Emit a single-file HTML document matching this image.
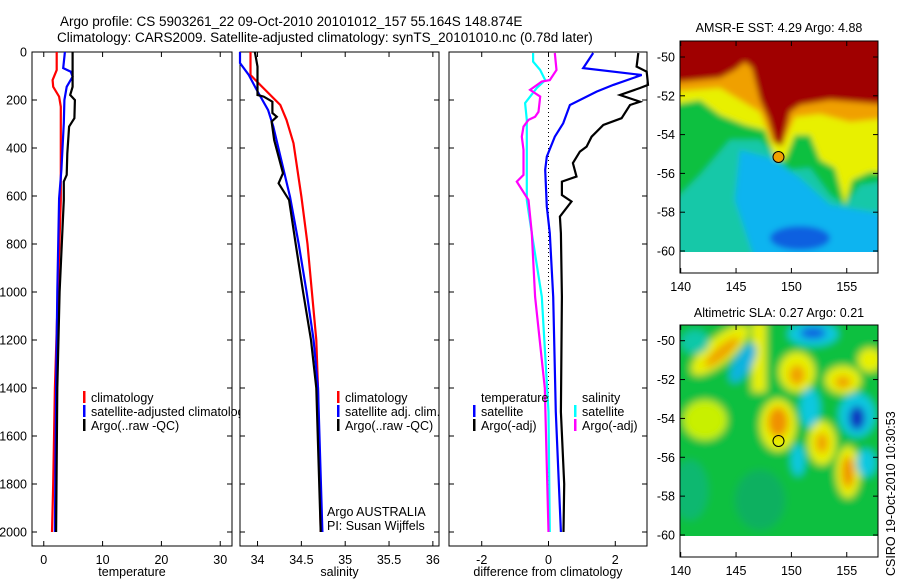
<!DOCTYPE html>
<html><head><meta charset="utf-8">
<style>
html,body{margin:0;padding:0;background:#fff;}
svg{display:block;font-family:"Liberation Sans",sans-serif;}
</style></head>
<body>
<svg id="fig" width="900" height="580" viewBox="0 0 900 580" xmlns="http://www.w3.org/2000/svg">
<defs>
<filter id="blur" x="-10%" y="-10%" width="120%" height="120%"><feGaussianBlur stdDeviation="3"/></filter>
<filter id="blur2" x="-10%" y="-10%" width="120%" height="120%"><feGaussianBlur stdDeviation="4"/></filter>
<clipPath id="clipMap1"><rect x="680" y="41" width="198" height="211"/></clipPath>
<clipPath id="clipMap2"><rect x="680" y="325" width="198" height="211"/></clipPath>
<clipPath id="clipLeg1"><rect x="0" y="380" width="240" height="60"/></clipPath>
</defs>
<text x="60" y="26" font-size="13.5">Argo profile: CS 5903261_22 09-Oct-2010 20101012_157 55.164S 148.874E</text>
<text x="57" y="42" font-size="13.5">Climatology: CARS2009. Satellite-adjusted climatology: synTS_20101010.nc (0.78d later)</text>

<g>
<g clip-path="url(#clipMap1)">
<g filter="url(#blur)">
<rect x="670" y="30" width="220" height="230" fill="#14c8a8"/>
<polygon fill="#10b4f0" points="740,150 770,158 800,178 830,205 890,215 890,260 755,260 735,200"/>
<ellipse cx="800" cy="238" rx="30" ry="12" fill="#0a60e0"/>
<polygon fill="#10c040" points="670,30 890,30 890,180 860,185 845,205 830,195 810,168 790,170 760,140 730,140 700,175 670,205"/>
<polygon fill="#e8f000" points="670,30 890,30 890,172 870,172 852,180 845,205 835,168 820,160 810,135 795,135 785,160 775,158 765,130 745,125 720,115 700,100 670,105"/>
<polygon fill="#f0a000" points="670,30 890,30 890,118 850,122 820,114 795,117 782,146 772,142 760,112 740,100 720,88 670,92"/>
<polygon fill="#a00000" points="670,30 890,30 890,105 830,100 800,105 790,112 782,146 775,143 768,118 760,100 752,68 745,62 735,70 720,78 700,80 670,83"/>
</g>
</g>
<rect x="680" y="252" width="198" height="21" fill="#fff"/>
<circle cx="778.5" cy="157" r="5.5" fill="#f0a000" stroke="#000" stroke-width="1"/>
<rect x="680" y="41" width="198" height="232" fill="none" stroke="#000" stroke-width="1"/>
<text x="779" y="32" font-size="12.5" text-anchor="middle">AMSR-E SST: 4.29 Argo: 4.88</text>
</g>

<g>
<g clip-path="url(#clipMap2)">
<g filter="url(#blur2)">
<rect x="670" y="315" width="220" height="230" fill="#10c040"/>
<ellipse cx="720" cy="350" rx="36" ry="13" transform="rotate(-40 720 350)" fill="#e8f000"/>
<ellipse cx="722" cy="352" rx="22" ry="6" transform="rotate(-40 722 352)" fill="#f0a000"/>
<rect x="752" y="322" width="14" height="70" fill="#e8f000"/>
<ellipse cx="778" cy="425" rx="18" ry="26" fill="#e8f000"/>
<ellipse cx="778" cy="422" rx="10" ry="15" fill="#f09000"/>
<ellipse cx="797" cy="372" rx="18" ry="20" fill="#e8f000"/>
<ellipse cx="797" cy="375" rx="8" ry="10" fill="#f0a000"/>
<ellipse cx="743" cy="363" rx="9" ry="22" transform="rotate(30 743 363)" fill="#10b4e0"/>
<ellipse cx="695" cy="342" rx="14" ry="12" fill="#10c8a8"/>
<ellipse cx="813" cy="334" rx="25" ry="12" fill="#10c8e0"/>
<ellipse cx="813" cy="333" rx="13" ry="6" fill="#1060e0"/>
<ellipse cx="810" cy="408" rx="10" ry="20" fill="#10c8e0"/>
<ellipse cx="822" cy="443" rx="14" ry="22" fill="#e8f000"/>
<ellipse cx="822" cy="443" rx="6" ry="10" fill="#f0a000"/>
<ellipse cx="843" cy="380" rx="18" ry="14" fill="#e8f000"/>
<ellipse cx="843" cy="382" rx="8" ry="6" fill="#f0a000"/>
<ellipse cx="857" cy="415" rx="18" ry="22" fill="#10c8e0"/>
<ellipse cx="857" cy="418" rx="8" ry="12" fill="#0a30c0"/>
<ellipse cx="848" cy="472" rx="12" ry="26" fill="#e8f000"/>
<ellipse cx="848" cy="472" rx="6" ry="16" fill="#f09000"/>
<ellipse cx="798" cy="460" rx="7" ry="16" fill="#10c8e0"/>
<ellipse cx="866" cy="463" rx="10" ry="14" fill="#10c8e0"/>
<ellipse cx="705" cy="420" rx="22" ry="20" fill="#c8f000"/>
<ellipse cx="690" cy="490" rx="18" ry="30" fill="#10b870"/>
<ellipse cx="760" cy="500" rx="25" ry="30" fill="#10b060"/>
<ellipse cx="870" cy="360" rx="12" ry="12" fill="#e8f000"/>
</g>
</g>
<rect x="680" y="536" width="198" height="21" fill="#fff"/>
<circle cx="778.5" cy="441" r="5.5" fill="none" stroke="#000" stroke-width="1"/>
<rect x="680" y="325" width="198" height="232" fill="none" stroke="#000" stroke-width="1"/>
<text x="779" y="317" font-size="12.5" text-anchor="middle">Altimetric SLA: 0.27 Argo: 0.21</text>
</g>
<text transform="translate(895,576) rotate(-90)" font-size="12.5">CSIRO 19-Oct-2010 10:30:53</text>

<g id="plots"></g>
</svg>
<script>
// ---- data ----
const depthTicks=[0,200,400,600,800,1000,1200,1400,1600,1800,2000];
const tTicks=[0,10,20,30];
const sTicks=[34,34.5,35,35.5,36];
const sTickLabels=["34","34.5","35","35.5","36"];
const dTicks=[-2,0,2];
const latTicks=[-50,-52,-54,-56,-58,-60];
const lonTicks=[140,145,150,155];

const tClimD=[0,75,117,145,186,228,617,1000,1400,1800,2000];
const tClim=[2.2,2.2,1.5,1.6,2.6,2.9,2.9,2.4,1.9,1.6,1.4];
const tSatD=[0,67,82,103,145,200,297,491,610,1000,1400,2000];
const tSat=[3.6,3.3,4.6,4.9,3.9,3.5,3.4,3.0,2.6,2.3,2.1,1.9];
const tArgoD=[0,145,179,200,276,311,423,512,540,617,1000,1400,2000];
const tArgo=[4.9,4.9,4.5,5.3,5.2,4.3,4.0,3.9,3.4,3.4,2.7,2.3,2.1];

const sClimD=[0,96,137,221,283,380,603,800,1000,1200,1400,2000];
const sClim=[33.92,33.92,34.03,34.26,34.33,34.41,34.5,34.57,34.62,34.67,34.69,34.72];
const sSatD=[0,46,96,158,242,311,603,800,1000,1200,1400,2000];
const sSat=[33.8,33.8,33.9,33.99,34.12,34.18,34.37,34.47,34.56,34.64,34.69,34.74];
const sArgoD=[0,61,158,179,186,207,254,270,290,367,505,547,617,800,1000,1200,1400,2000];
const sArgo=[33.97,34.0,34.0,34.0,34.07,34.17,34.17,34.22,34.16,34.19,34.29,34.24,34.36,34.435,34.52,34.61,34.67,34.72];

const dTArgoD=[4,61,82,137,150,179,207,221,276,304,353,394,415,463,519,540,596,623,686,755,1020,1500,1800,2000];
const dTArgo=[2.69,2.64,2.94,2.98,2.74,2.14,2.74,2.44,2.19,1.64,1.29,1.14,0.94,0.73,0.84,0.40,0.40,0.69,0.34,0.37,0.40,0.37,0.47,0.45];
const dTSatD=[4,67,96,137,165,221,297,353,436,491,644,755,1020,1500,2000];
const dTSat=[1.34,1.04,2.79,1.94,1.44,0.64,0.44,0.19,-0.05,-0.1,-0.05,0.04,0.14,0.22,0.37];
const dSSatD=[4,40,75,117,150,213,283,617,755,1020,1500,2000];
const dSSat=[-0.46,-0.46,-0.25,-0.1,-0.35,-0.7,-0.65,-0.65,-0.5,-0.2,0,0.04];
const dSArgoD=[4,75,117,123,158,186,249,270,283,311,353,408,512,540,617,755,1020,1400,2000];
const dSArgo=[0.19,0.24,0.04,-0.2,-0.55,-0.25,-0.3,-0.4,-0.6,-0.75,-0.8,-0.75,-0.75,-0.95,-0.6,-0.5,-0.4,-0.11,0.0];

// ---- drawing ----
const NS='http://www.w3.org/2000/svg';
const root=document.getElementById('plots');
const TOP=52,BOT=546;
function yD(d){return TOP+d*0.24;}
function mk(tag,attrs,parent){const e=document.createElementNS(NS,tag);for(const k in attrs)e.setAttribute(k,attrs[k]);(parent||root).appendChild(e);return e;}
function txt(s,x,y,anchor,parent,size){const t=mk('text',{x:x,y:y,'font-size':size||12.5,'text-anchor':anchor||'start'},parent);t.textContent=s;return t;}

function panel(name,x0,x1,xmin,xmax,ticks,labels,xlabel,showY){
  const g=mk('g',{});
  
  
  const xs=v=>x0+(v-xmin)/(xmax-xmin)*(x1-x0);
  mk('rect',{x:x0,y:TOP,width:x1-x0,height:BOT-TOP,fill:'none',stroke:'#000','stroke-width':1},g);
  ticks.forEach((v,i)=>{
    const x=xs(v);
    mk('line',{x1:x,x2:x,y1:BOT,y2:BOT-5,stroke:'#000'},g);
    mk('line',{x1:x,x2:x,y1:TOP,y2:TOP+5,stroke:'#000'},g);
    const t=txt(labels[i],x,564,'middle',g);
    
    
  });
  depthTicks.forEach(d=>{
    const y=yD(d);
    mk('line',{x1:x0,x2:x0+5,y1:y,y2:y,stroke:'#000'},g);
    mk('line',{x1:x1,x2:x1-5,y1:y,y2:y,stroke:'#000'},g);
    if(showY){
      const t=txt(String(d),27,y+4.5,'end',g);
      
      
    }
  });
  const xl=txt(xlabel,(x0+x1)/2,576,'middle',g);
  
  
  return {g,xs};
}
function series(p,name,vals,depths,color){
  const pts=vals.map((v,i)=>p.xs(v).toFixed(1)+','+yD(depths[i]).toFixed(1)).join(' ');
  const l=mk('polyline',{points:pts,fill:'none',stroke:color,'stroke-width':2.2,'stroke-linejoin':'miter'},p.g);
  
  
}
function legend(p,x,y,color,label,clip){
  const g=mk('g',{},p.g);
  
  
  if(clip) g.setAttribute('clip-path','url(#'+clip+')');
  if(color) mk('rect',{x:x-8,y:y-11,width:2.5,height:12,fill:color},g);
  txt(label,x,y,'start',g);
}

const p1=panel('temperature-panel',32,232,-2,32,tTicks,tTicks.map(String),'temperature',true);
series(p1,'temperature-climatology-line',tClim,tClimD,'#ff0000');
series(p1,'temperature-satellite-line',tSat,tSatD,'#0000ff');
series(p1,'temperature-argo-line',tArgo,tArgoD,'#000000');
legend(p1,91,402,'#ff0000','climatology');
legend(p1,91,416,'#0000ff','satellite-adjusted climatology','clipLeg1');
legend(p1,91,430,'#000000','Argo(..raw -QC)');

const p2=panel('salinity-panel',240,439,33.8,36.07,sTicks,sTickLabels,'salinity',false);
series(p2,'salinity-climatology-line',sClim,sClimD,'#ff0000');
series(p2,'salinity-satellite-line',sSat,sSatD,'#0000ff');
series(p2,'salinity-argo-line',sArgo,sArgoD,'#000000');
legend(p2,345,402,'#ff0000','climatology');
legend(p2,345,416,'#0000ff','satellite adj. clim.');
legend(p2,345,430,'#000000','Argo(..raw -QC)');
txt('Argo AUSTRALIA',327,516,'start',p2.g);
txt('PI: Susan Wijffels',327,530,'start',p2.g);

const p3=panel('difference-panel',449,647,-2.98,2.95,dTicks,dTicks.map(String),'difference from climatology',false);
mk('line',{x1:p3.xs(0),x2:p3.xs(0),y1:TOP,y2:yD(2000),stroke:'#000','stroke-dasharray':'1,3','stroke-width':1},p3.g);
series(p3,'temp-diff-satellite-line',dTSat,dTSatD,'#0000ff');
series(p3,'temp-diff-argo-line',dTArgo,dTArgoD,'#000000');
series(p3,'sal-diff-satellite-line',dSSat,dSSatD,'#00ffff');
series(p3,'sal-diff-argo-line',dSArgo,dSArgoD,'#ff00ff');
legend(p3,481,402,null,'temperature');
legend(p3,481,416,'#0000ff','satellite');
legend(p3,481,430,'#000000','Argo(-adj)');
legend(p3,582,402,null,'salinity');
legend(p3,582,416,'#00ffff','satellite');
legend(p3,582,430,'#ff00ff','Argo(-adj)');

function mapAxes(name,top,bottom,lat50y,lat60y,lonY){
  const g=mk('g',{});
  
  
  const ly=v=>lat50y+(-50-v)/10*(lat60y-lat50y);
  const lx=v=>680.7+(v-140)*11.07;
  latTicks.forEach(v=>{
    const y=ly(v);
    mk('line',{x1:680,x2:685,y1:y,y2:y,stroke:'#000'},g);
    mk('line',{x1:878,x2:873,y1:y,y2:y,stroke:'#000'},g);
    const t=txt(String(v),675,y+4.5,'end',g);
    
    
  });
  lonTicks.forEach(v=>{
    const x=lx(v);
    mk('line',{x1:x,x2:x,y1:bottom,y2:bottom-5,stroke:'#000'},g);
    mk('line',{x1:x,x2:x,y1:top,y2:top+5,stroke:'#000'},g);
    const t=txt(String(v),x,lonY,'middle',g);
    
    
  });
}
mapAxes('sst-map-axes',41,273,57,251,291);
mapAxes('sla-map-axes',325,557,340.7,535,575);
</script>
</body></html>
